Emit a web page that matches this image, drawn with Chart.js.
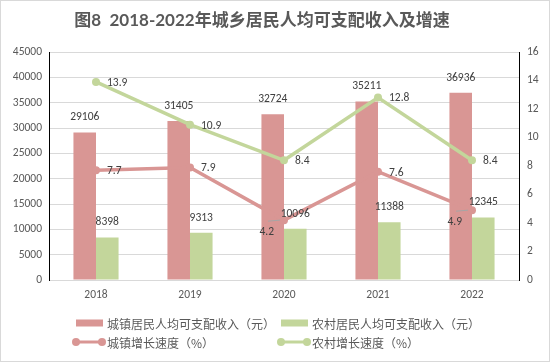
<!DOCTYPE html>
<html><head><meta charset="utf-8">
<script src="https://cdn.jsdelivr.net/npm/chart.js@4/dist/chart.umd.min.js"></script>
<style>html,body{margin:0;padding:0;background:#fff}canvas{display:block}</style>
</head><body>
<canvas id="c" width="550" height="362"></canvas>
<script>
const categories = ['2018', '2019', '2020', '2021', '2022'];
const urbanIncome = [29106, 31405, 32724, 35211, 36936];
const ruralIncome = [8398, 9313, 10096, 11388, 12345];
const urbanGrowth = [7.7, 7.9, 4.2, 7.6, 4.9];
const ruralGrowth = [13.9, 10.9, 8.4, 12.8, 8.4];
const leftTickLabels = ['0', '5000', '10000', '15000', '20000', '25000', '30000', '35000', '40000', '45000'];
const rightTickLabels = ['0', '2', '4', '6', '8', '10', '12', '14', '16'];
const seriesNames = ['城镇居民人均可支配收入（元）', '农村居民人均可支配收入（元）', '城镇增长速度（%）', '农村增长速度（%）'];
const titleText = '图8  2018-2022年城乡居民人均可支配收入及增速';

// label placement (style, not data)
const urbanGrowthLabelSide = ['right', 'right', 'lowerLeft', 'right', 'lowerLeft'];

const RED = '#D99694';
const GREEN = '#C3D69B';
const TXT = '#595959';
const NUMFONT = "Carlito, Lato, 'Noto Sans CJK SC', sans-serif";
const CJKFONT = "'Noto Sans CJK SC', sans-serif";

const labelsPlugin = {
  id: 'labels',
  afterDatasetsDraw(chart) {
    const ctx = chart.ctx;
    ctx.save();
    ctx.fillStyle = '#404040';
    ctx.font = '11.5px ' + NUMFONT;
    chart.data.datasets.forEach((ds, di) => {
      const meta = chart.getDatasetMeta(di);
      meta.data.forEach((el, i) => {
        const v = ds.data[i];
        if (ds.type === 'bar') {
          ctx.textAlign = 'center';
          ctx.textBaseline = 'middle';
          ctx.fillText(String(v), el.x, el.y - 15);
        } else {
          const side = ds.labelSide ? ds.labelSide[i] : 'right';
          if (side === 'lowerLeft') {
            ctx.strokeStyle = '#a6a6a6';
            ctx.lineWidth = 1;
            ctx.beginPath();
            ctx.moveTo(el.x - 16, el.y + 1);
            ctx.lineTo(el.x - 4, el.y);
            ctx.stroke();
            ctx.textAlign = 'right';
            ctx.textBaseline = 'middle';
            ctx.fillText(v.toFixed(1), el.x - 10, el.y + 12);
          } else {
            ctx.textAlign = 'left';
            ctx.textBaseline = 'middle';
            ctx.fillText(v.toFixed(1), el.x + 11, el.y + 1);
          }
        }
      });
    });
    ctx.restore();
  }
};

const decorPlugin = {
  id: 'decor',
  beforeDraw(chart) {
    const ctx = chart.ctx;
    ctx.save();
    ctx.fillStyle = '#fff';
    ctx.fillRect(0, 0, chart.width, chart.height);
    ctx.restore();
  },
  afterDraw(chart) {
    const ctx = chart.ctx;
    ctx.save();
    ctx.strokeStyle = '#d9d9d9';
    ctx.lineWidth = 1;
    ctx.strokeRect(0.5, 0.5, chart.width - 1, chart.height - 1);
    ctx.fillStyle = TXT;
    ctx.font = "bold 17px Lato, 'Noto Sans CJK SC', sans-serif";
    ctx.textAlign = 'center';
    ctx.textBaseline = 'middle';
    ctx.fillText(titleText, 262, 21);
    ctx.font = '12px ' + CJKFONT;
    ctx.textAlign = 'left';
    const items = [
      {kind: 'box', color: RED, x: 76, y: 323},
      {kind: 'box', color: GREEN, x: 281, y: 323},
      {kind: 'line', color: RED, x: 76, y: 342},
      {kind: 'line', color: GREEN, x: 281, y: 342}
    ];
    items.forEach((it, i) => {
      if (it.kind === 'box') {
        ctx.fillStyle = it.color;
        ctx.fillRect(it.x, it.y - 3.5, 27, 7);
      } else {
        ctx.strokeStyle = it.color;
        ctx.lineWidth = 3;
        ctx.beginPath();
        ctx.moveTo(it.x, it.y);
        ctx.lineTo(it.x + 26, it.y);
        ctx.stroke();
        ctx.fillStyle = it.color;
        [it.x, it.x + 26].forEach(px => {
          ctx.beginPath();
          ctx.arc(px, it.y, 4, 0, Math.PI * 2);
          ctx.fill();
        });
      }
      ctx.fillStyle = TXT;
      ctx.fillText(seriesNames[i], it.x + 31, it.y + 1);
    });
    ctx.restore();
  }
};

new Chart(document.getElementById('c'), {
  data: {
    labels: categories,
    datasets: [
      {type: 'line', label: seriesNames[2], data: urbanGrowth, yAxisID: 'y1', borderColor: RED, backgroundColor: RED,
        borderWidth: 3.5, pointRadius: 4, pointBackgroundColor: RED, pointBorderWidth: 0, order: 0, labelSide: urbanGrowthLabelSide},
      {type: 'line', label: seriesNames[3], data: ruralGrowth, yAxisID: 'y1', borderColor: GREEN, backgroundColor: GREEN,
        borderWidth: 3.5, pointRadius: 4, pointBackgroundColor: GREEN, pointBorderWidth: 0, order: 0},
      {type: 'bar', label: seriesNames[0], data: urbanIncome, yAxisID: 'y', backgroundColor: RED, order: 1,
        barPercentage: 1, categoryPercentage: 0.48},
      {type: 'bar', label: seriesNames[1], data: ruralIncome, yAxisID: 'y', backgroundColor: GREEN, order: 1,
        barPercentage: 1, categoryPercentage: 0.48}
    ]
  },
  options: {
    responsive: false,
    animation: false,
    layout: {padding: {top: 52, left: 0, right: 0, bottom: 0}},
    plugins: {legend: {display: false}, title: {display: false}, tooltip: {enabled: false}},
    scales: {
      x: {
        grid: {display: false, drawTicks: false},
        border: {color: '#d9d9d9'},
        ticks: {color: TXT, font: {family: NUMFONT, size: 11.5}, padding: 8},
        afterFit(s) { s.height = 82; }
      },
      y: {
        position: 'left', min: 0, max: 45000,
        afterBuildTicks(s) { s.ticks = leftTickLabels.map(t => ({value: Number(t)})); },
        ticks: {color: TXT, font: {family: NUMFONT, size: 11.5}, padding: 7,
          callback: (v, i) => leftTickLabels[i]},
        grid: {color: '#d9d9d9', drawTicks: false},
        border: {color: '#000'},
        afterFit(s) { s.width = 49; }
      },
      y1: {
        position: 'right', min: 0, max: 16,
        afterBuildTicks(s) { s.ticks = rightTickLabels.map(t => ({value: Number(t)})); },
        ticks: {color: TXT, font: {family: NUMFONT, size: 11.5}, padding: 8,
          callback: (v, i) => rightTickLabels[i]},
        grid: {display: false, drawTicks: false},
        border: {color: '#000'},
        afterFit(s) { s.width = 31; }
      }
    }
  },
  plugins: [decorPlugin, labelsPlugin]
});
</script>
</body></html>
